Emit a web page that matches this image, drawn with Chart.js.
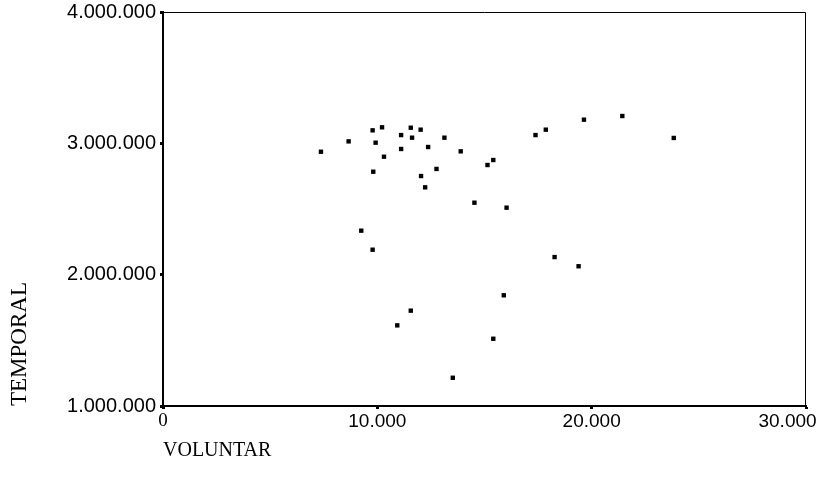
<!DOCTYPE html>
<html>
<head>
<meta charset="utf-8">
<script src="https://cdn.jsdelivr.net/npm/chart.js@4/dist/chart.umd.min.js"></script>
<style>
  html, body { margin: 0; padding: 0; background: #fff; }
  #wrap { width: 821px; height: 481px; }
</style>
</head>
<body>
<div id="wrap"><canvas id="scatter"></canvas></div>
<script>
// VOLUNTAR (x) and TEMPORAL (y)
const voluntar = [
  7370, 8660, 9780, 10220, 9920, 10310, 9810, 11110, 11620, 11560,
  12020, 11110, 12370, 13130, 13890, 12040, 12760, 12230, 15140, 15410,
  17380, 17860, 19640, 21430, 23830, 14530, 16030, 9250, 9780, 18270,
  19390, 15900, 11560, 10930, 15410, 13520
];
const temporal = [
  2936000, 3015000, 3099000, 3122000, 3005000, 2898000, 2784000, 3063000, 3043000, 3119000,
  3104000, 2957000, 2972000, 3043000, 2939000, 2751000, 2805000, 2665000, 2835000, 2873000,
  3063000, 3104000, 3180000, 3208000, 3041000, 2548000, 2510000, 2335000, 2190000, 2134000,
  2064000, 1843000, 1726000, 1614000, 1512000, 1215000
];
const xTicks = [0, 10000, 20000, 30000];
const yTicks = [1000000, 2000000, 3000000, 4000000];

const points = voluntar.map((v, i) => ({ x: v, y: temporal[i] }));

// 1.000.000 style
function dotted(n) {
  return String(n).replace(/\B(?=(\d{3})+(?!\d))/g, ".");
}

const sans = "'Liberation Sans', Arial, sans-serif";
const serif = "'Liberation Serif', 'Times New Roman', serif";

// thin top/right frame lines
const frame = {
  id: "frame",
  afterDraw(chart) {
    const { ctx, chartArea: a } = chart;
    ctx.save();
    ctx.strokeStyle = "#000";
    ctx.lineWidth = 1;
    ctx.beginPath();
    ctx.moveTo(a.left, a.top + 0.5);
    ctx.lineTo(a.right - 0.5, a.top + 0.5);
    ctx.lineTo(a.right - 0.5, a.bottom);
    ctx.stroke();
    ctx.restore();
  }
};

new Chart(document.getElementById("scatter"), {
  type: "scatter",
  data: {
    datasets: [{
      data: points,
      backgroundColor: "#000",
      borderWidth: 0,
      pointStyle: "rect",
      pointRadius: 3.1,
      pointHoverRadius: 3.1
    }]
  },
  options: {
    responsive: true,
    maintainAspectRatio: false,
    animation: false,
    layout: { padding: { top: 12, right: 15, left: 0, bottom: 0 } },
    plugins: { legend: { display: false }, tooltip: { enabled: false } },
    scales: {
      x: {
        type: "linear",
        min: 0,
        max: 30000,
        afterBuildTicks: (s) => { s.ticks = xTicks.map(v => ({ value: v })); },
        afterFit: (s) => { s.height = 75; s.paddingLeft = 0; s.paddingRight = 0; },
        border: { display: true, color: "#000", width: 2 },
        grid: { drawOnChartArea: false, drawTicks: true, tickLength: 3, tickWidth: 3, color: "#000" },
        ticks: {
          color: "#000",
          padding: 1,
          maxRotation: 0,
          autoSkip: false,
          font: (c) => c.tick && c.tick.value === 0
            ? { family: serif, size: 19 }
            : { family: sans, size: 19 },
          callback: (v, i, all) => i === all.length - 1 ? dotted(v) + "       " : dotted(v)
        },
        title: {
          display: true,
          text: "VOLUNTAR",
          align: "start",
          color: "#000",
          font: { family: serif, size: 20 },
          padding: { top: 0, bottom: 18 }
        }
      },
      y: {
        type: "linear",
        min: 1000000,
        max: 4000000,
        afterBuildTicks: (s) => { s.ticks = yTicks.map(v => ({ value: v })); },
        afterFit: (s) => { s.width = 163; s.paddingTop = 0; s.paddingBottom = 0; },
        border: { display: true, color: "#000", width: 2 },
        grid: { drawOnChartArea: false, drawTicks: true, tickLength: 3, tickWidth: 3, color: "#000" },
        ticks: {
          color: "#000",
          padding: 4,
          font: { family: sans, size: 20 },
          callback: (v) => dotted(v)
        },
        title: {
          display: true,
          text: "TEMPORAL",
          align: "start",
          color: "#000",
          font: { family: serif, size: 23 },
          padding: { top: 6, bottom: 0 }
        }
      }
    }
  },
  plugins: [frame]
});
</script>
</body>
</html>
